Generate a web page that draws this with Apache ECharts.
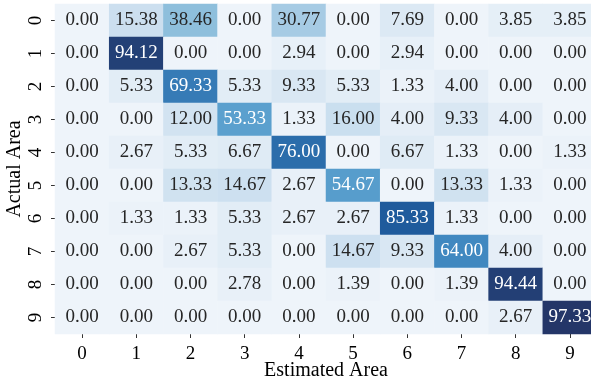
<!DOCTYPE html>
<html>
<head>
<meta charset="utf-8">
<script src="https://cdn.jsdelivr.net/npm/echarts@6/dist/echarts.min.js"></script>
<style>
html,body{margin:0;padding:0;background:#fff;}
#chart{width:591px;height:386px;}
</style>
</head>
<body>
<div id="chart"></div>
<script>
const estimatedLabels = ['0','1','2','3','4','5','6','7','8','9'];
const actualLabels = ['0','1','2','3','4','5','6','7','8','9'];
const row0 = [0.00, 15.38, 38.46, 0.00, 30.77, 0.00, 7.69, 0.00, 3.85, 3.85];
const row1 = [0.00, 94.12, 0.00, 0.00, 2.94, 0.00, 2.94, 0.00, 0.00, 0.00];
const row2 = [0.00, 5.33, 69.33, 5.33, 9.33, 5.33, 1.33, 4.00, 0.00, 0.00];
const row3 = [0.00, 0.00, 12.00, 53.33, 1.33, 16.00, 4.00, 9.33, 4.00, 0.00];
const row4 = [0.00, 2.67, 5.33, 6.67, 76.00, 0.00, 6.67, 1.33, 0.00, 1.33];
const row5 = [0.00, 0.00, 13.33, 14.67, 2.67, 54.67, 0.00, 13.33, 1.33, 0.00];
const row6 = [0.00, 1.33, 1.33, 5.33, 2.67, 2.67, 85.33, 1.33, 0.00, 0.00];
const row7 = [0.00, 0.00, 2.67, 5.33, 0.00, 14.67, 9.33, 64.00, 4.00, 0.00];
const row8 = [0.00, 0.00, 0.00, 2.78, 0.00, 1.39, 0.00, 1.39, 94.44, 0.00];
const row9 = [0.00, 0.00, 0.00, 0.00, 0.00, 0.00, 0.00, 0.00, 2.67, 97.33];
const rows = [row0, row1, row2, row3, row4, row5, row6, row7, row8, row9];

const blues = ['#eef4fa','#d2e3f1','#bad5eb','#95c3de','#68abd3','#468fc5','#2f73b0','#1f5c9d','#243668'];
const FONT = 'Liberation Serif';

let vmax = 0;
rows.forEach(r => r.forEach(v => { if (v > vmax) vmax = v; }));
const data = [];
rows.forEach((r, yi) => r.forEach((v, xi) => {
  data.push({value: [xi, yi, v], label: {color: v / vmax > 0.47 ? '#ffffff' : '#262626'}});
}));

const chart = echarts.init(document.getElementById('chart'), null, {renderer: 'canvas'});
chart.setOption({
  animation: false,
  backgroundColor: '#ffffff',
  grid: {left: 55, top: 4, width: 542, height: 330, containLabel: false, outerBoundsMode: 'none'},
  xAxis: {
    type: 'category',
    data: estimatedLabels,
    position: 'bottom',
    name: 'Estimated Area',
    nameLocation: 'middle',
    nameGap: 27,
    nameMoveOverlap: false,
    nameTextStyle: {fontFamily: FONT, fontSize: 20, color: '#000'},
    axisLine: {show: false},
    axisTick: {show: true, alignWithLabel: true, length: 4, lineStyle: {color: '#333', width: 1}},
    axisLabel: {fontFamily: FONT, fontSize: 19, color: '#000', margin: 11},
    splitLine: {show: false}
  },
  yAxis: {
    type: 'category',
    data: actualLabels,
    inverse: true,
    name: 'Actual Area',
    nameLocation: 'middle',
    nameRotate: 90,
    nameGap: 30,
    nameMoveOverlap: false,
    nameTextStyle: {fontFamily: FONT, fontSize: 20, color: '#000'},
    axisLine: {show: false},
    axisTick: {show: true, alignWithLabel: true, length: 4, lineStyle: {color: '#333', width: 1}},
    axisLabel: {fontFamily: FONT, fontSize: 19, color: '#000', rotate: 90, margin: 9},
    splitLine: {show: false}
  },
  visualMap: {
    show: false,
    type: 'continuous',
    min: 0,
    max: vmax,
    dimension: 2,
    inRange: {color: blues}
  },
  series: [{
    type: 'heatmap',
    data: data,
    label: {
      show: true,
      fontFamily: FONT,
      fontSize: 19,
      formatter: p => p.value[2].toFixed(2)
    },
    itemStyle: {borderWidth: 0},
    emphasis: {disabled: true}
  }]
});
</script>
</body>
</html>
